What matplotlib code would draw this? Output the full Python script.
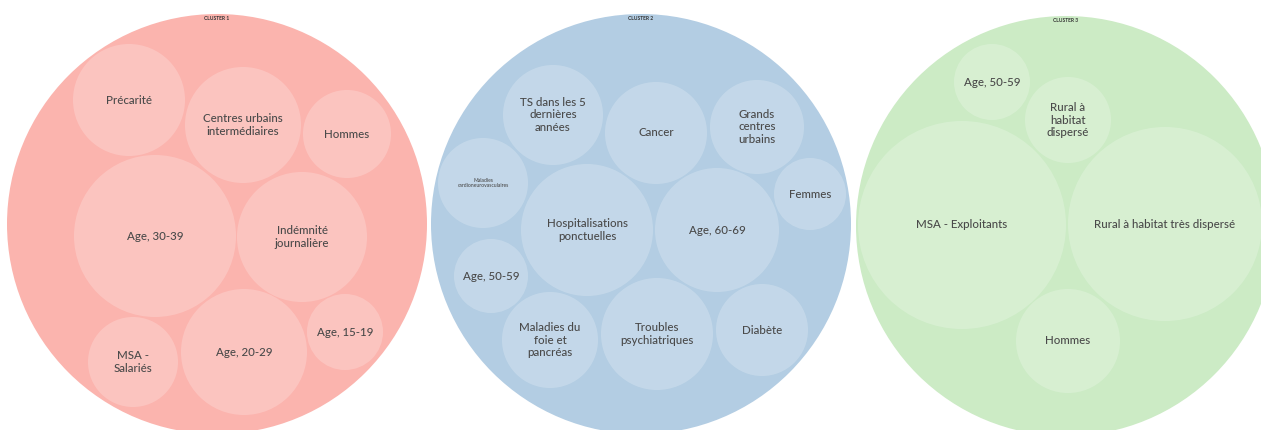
import matplotlib.pyplot as plt
from matplotlib.patches import Circle

# cluster titles and outer bubbles (x, y, radius)
cluster_names = ["CLUSTER 1", "CLUSTER 2", "CLUSTER 3"]
cluster_x = [217, 641, 1066]
cluster_y = [224, 224, 226]
cluster_r = [210, 210, 210]
cluster_colors = ["#fbb4ae", "#b3cde3", "#ccebc5"]

# cluster 1
c1_labels = ["Précarité", "Centres urbains\nintermédiaires", "Hommes", "Age, 30-39",
             "Indémnité\njournalière", "Age, 15-19", "Age, 20-29", "MSA -\nSalariés"]
c1_x = [129, 243, 347, 155, 302, 345, 244, 133]
c1_y = [100, 125, 134, 236, 237, 332, 352, 362]
c1_r = [56, 58, 44, 81, 65, 38, 63, 45]

# cluster 2
c2_labels = ["TS dans les 5\ndernières\nannées", "Cancer", "Grands\ncentres\nurbains",
             "Maladies\ncardioneurovasculaires", "Femmes", "Hospitalisations\nponctuelles",
             "Age, 60-69", "Age, 50-59", "Maladies du\nfoie et\npancréas",
             "Troubles\npsychiatriques", "Diabète"]
c2_x = [553, 656, 757, 483, 810, 587, 717, 491, 550, 657, 762]
c2_y = [115, 133, 127, 183, 194, 230, 230, 276, 340, 334, 330]
c2_r = [50, 51, 47, 45, 36, 66, 62, 37, 48, 56, 46]

# cluster 3
c3_labels = ["Age, 50-59", "Rural à\nhabitat\ndispersé", "MSA - Exploitants",
             "Rural à habitat très dispersé", "Hommes"]
c3_x = [992, 1068, 962, 1165, 1068]
c3_y = [82, 120, 225, 224, 341]
c3_r = [38, 43, 104, 97, 52]

inner = [(c1_labels, c1_x, c1_y, c1_r),
         (c2_labels, c2_x, c2_y, c2_r),
         (c3_labels, c3_x, c3_y, c3_r)]

plt.rcParams['font.family'] = ['Lato', 'DejaVu Sans']

fig = plt.figure(figsize=(12.61, 4.30), dpi=100)
ax = fig.add_axes([0, 0, 1, 1])
ax.set_xlim(0, 1261)
ax.set_ylim(430, 0)
ax.set_aspect('equal')
ax.axis('off')

text_color = "#4a4a4a"

for i, name in enumerate(cluster_names):
    ax.add_patch(Circle((cluster_x[i], cluster_y[i]), cluster_r[i],
                        facecolor=cluster_colors[i], edgecolor='none'))
    ax.text(cluster_x[i], cluster_y[i] - cluster_r[i] + 4, name, fontsize=3.6,
            fontweight='bold', color="#333333", ha='center', va='center')
    labels, xs, ys, rs = inner[i]
    for lab, x, y, r in zip(labels, xs, ys, rs):
        ax.add_patch(Circle((x, y), r, facecolor='white', alpha=0.22, edgecolor='none'))
        fs = 3.6 if lab.startswith("Maladies\ncardio") else 8.3
        ax.text(x, y, lab, fontsize=fs, color=text_color, ha='center', va='center',
                linespacing=1.12, fontweight='medium')

fig.savefig("out.png", dpi=100)
